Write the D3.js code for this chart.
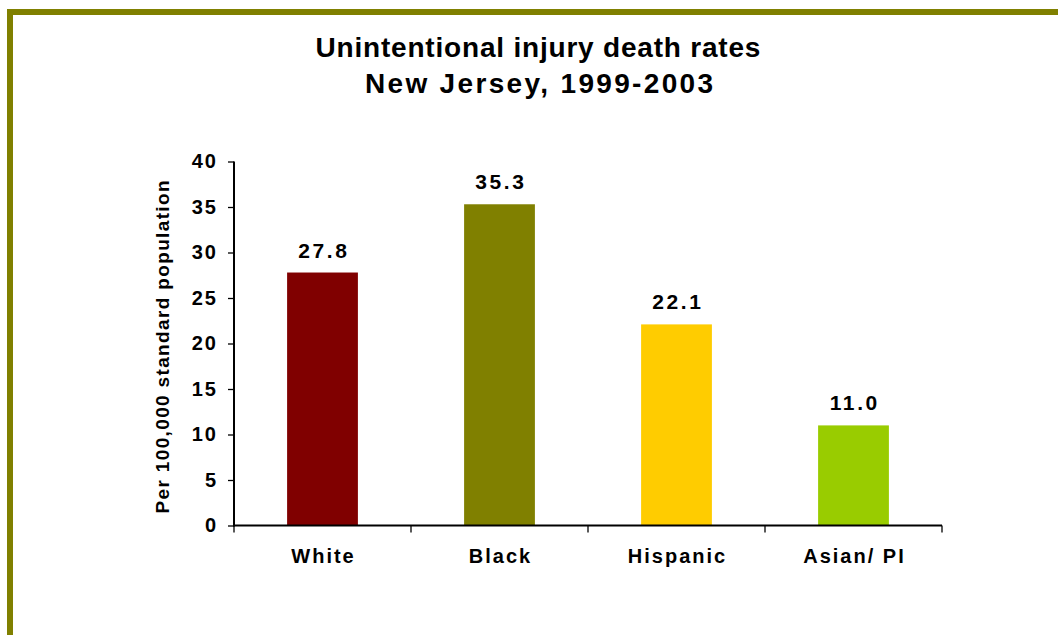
<!DOCTYPE html>
<html>
<head>
<meta charset="utf-8">
<script src="https://cdn.jsdelivr.net/npm/d3@7"></script>
<style>
  html, body { margin: 0; padding: 0; background: #ffffff; }
  svg { display: block; }
  text { font-family: "Liberation Sans", Arial, sans-serif; font-weight: bold; fill: #000; }
</style>
</head>
<body>
<svg id="chart" width="1058" height="635"></svg>
<script>
const categories = ["White", "Black", "Hispanic", "Asian/ PI"];
const values = [27.8, 35.3, 22.1, 11.0];
const barColors = ["#800000", "#808000", "#FFCC00", "#99CC00"];
const yTicks = [0, 5, 10, 15, 20, 25, 30, 35, 40];
const titleLines = ["Unintentional injury death rates", "New Jersey, 1999-2003"];
const yAxisTitle = "Per 100,000 standard population";

const svg = d3.select("#chart");

// frame
svg.append("rect").attr("x", 7).attr("y", 9).attr("width", 1051).attr("height", 6).attr("fill", "#808000");
svg.append("rect").attr("x", 7).attr("y", 9).attr("width", 6).attr("height", 626).attr("fill", "#808000");

const plot = { left: 234, right: 942, top: 161.5, bottom: 525.5 };

const x = d3.scaleBand().domain(categories).range([plot.left, plot.right]).paddingInner(0.6).paddingOuter(0.3);
const y = d3.scaleLinear().domain([0, 40]).range([plot.bottom, plot.top]);

function fitWidth(sel, target) {
  sel.each(function() {
    const n = this.textContent.length;
    const w = this.getComputedTextLength();
    const ls = (target - w) / Math.max(1, n - 1);
    d3.select(this).attr("letter-spacing", ls.toFixed(2));
    if (d3.select(this).attr("text-anchor") === "middle") {
      d3.select(this).attr("dx", (ls / 2).toFixed(2));
    }
  });
}

// title
const t1 = svg.append("text").attr("x", 538).attr("y", 57).attr("text-anchor", "middle")
  .style("font-size", "28px").text(titleLines[0]);
fitWidth(t1, 445);
const t2 = svg.append("text").attr("x", 539).attr("y", 93).attr("text-anchor", "middle")
  .style("font-size", "28px").text(titleLines[1]);
fitWidth(t2, 348);

// bars
svg.append("g").selectAll("rect").data(values).join("rect")
  .attr("x", (d, i) => x(categories[i]))
  .attr("y", d => y(d))
  .attr("width", x.bandwidth())
  .attr("height", d => y(0) - y(d))
  .attr("fill", (d, i) => barColors[i]);

// value labels
svg.append("g").selectAll("text").data(values).join("text")
  .attr("x", (d, i) => x(categories[i]) + x.bandwidth() / 2)
  .attr("y", d => y(d) - 15)
  .attr("text-anchor", "middle")
  .attr("letter-spacing", 2.6)
  .attr("dx", 1.3)
  .style("font-size", "21px")
  .text(d => d.toFixed(1));

// y axis
const yAxis = d3.axisLeft(y).tickValues(yTicks).tickSize(6).tickPadding(12).tickFormat(d3.format("d"));
const gy = svg.append("g").attr("transform", `translate(${plot.left},0)`).call(yAxis);
gy.select(".domain").attr("stroke", "#000").attr("stroke-width", 2).attr("d", `M0,${plot.top}V${plot.bottom + 1}`);
gy.selectAll(".tick line").attr("stroke", "#000").attr("stroke-width", 1.3);
gy.selectAll(".tick text").style("font-size", "20px").style("font-family", "Liberation Sans, Arial, sans-serif")
  .style("font-weight", "bold").attr("letter-spacing", 2).attr("dx", 2);

// x axis with ticks at band boundaries
const gx = svg.append("g").attr("transform", `translate(0,${plot.bottom})`);
gx.append("line").attr("x1", plot.left - 1).attr("x2", plot.right).attr("y1", 0).attr("y2", 0)
  .attr("stroke", "#000").attr("stroke-width", 2);
const boundaries = d3.range(categories.length + 1).map(i => plot.left + i * (plot.right - plot.left) / categories.length);
gx.selectAll("line.tk").data(boundaries).join("line").attr("class", "tk")
  .attr("x1", d => d).attr("x2", d => d).attr("y1", 0).attr("y2", 7)
  .attr("stroke", "#000").attr("stroke-width", 1.3);
gx.selectAll("text").data(categories).join("text")
  .attr("x", d => x(d) + x.bandwidth() / 2)
  .attr("y", 37)
  .attr("text-anchor", "middle")
  .attr("letter-spacing", 2)
  .attr("dx", 1)
  .style("font-size", "20px")
  .text(d => d);

// y axis title
const yt = svg.append("text")
  .attr("transform", `translate(169,347) rotate(-90)`)
  .attr("text-anchor", "middle")
  .style("font-size", "19px")
  .text(yAxisTitle);
fitWidth(yt, 333);
</script>
</body>
</html>
